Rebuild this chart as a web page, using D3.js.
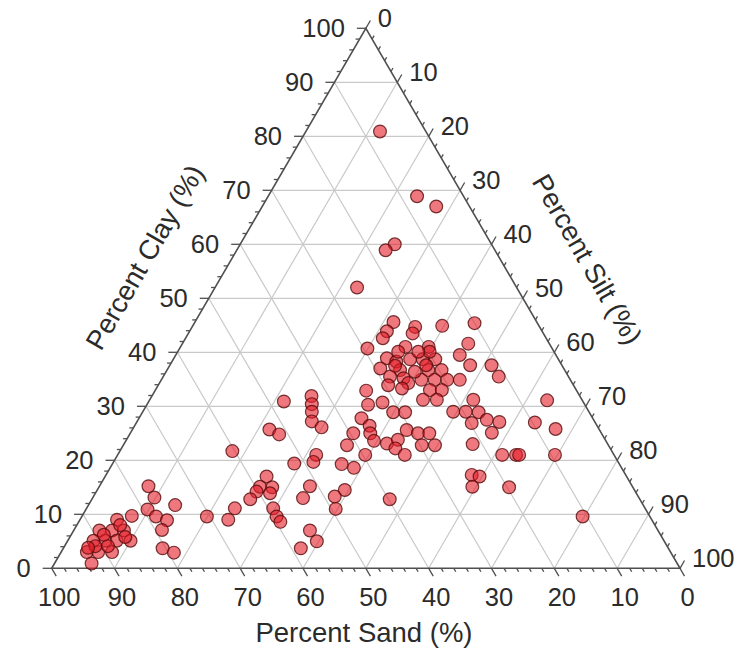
<!DOCTYPE html>
<html><head><meta charset="utf-8">
<script src="https://cdn.jsdelivr.net/npm/d3@7"></script>
<style>body{margin:0;background:#fff}svg{display:block}</style>
</head><body>
<svg id="chart" width="743" height="655"></svg>
<script>
// ---- data ----
const tickValues = [0, 10, 20, 30, 40, 50, 60, 70, 80, 90, 100];
const tickLabels = ["0", "10", "20", "30", "40", "50", "60", "70", "80", "90", "100"];
const axisTitles = { sand: "Percent Sand (%)", clay: "Percent Clay (%)", silt: "Percent Silt (%)" };
// sample composition (percent); silt is the remainder 100 - clay - sand
const clay = [80.9, 68.9, 67.0, 60.0, 58.9, 52.0,
  45.6, 43.9, 42.6, 44.7, 43.5, 44.9, 45.4, 40.7, 41.0, 41.0, 41.6, 38.9, 38.3, 38.7, 38.7, 38.7, 40.1, 39.5, 37.6,
  37.0, 36.7, 36.7, 36.7, 35.2, 35.5, 34.3, 34.9, 34.9, 34.9, 34.9, 33.3, 33.9, 32.9, 33.0, 33.0, 31.2, 31.2, 31.2,
  30.3, 30.7, 28.9, 28.9, 29.0, 29.0, 28.9, 35.5, 37.6, 27.5, 27.1, 26.9, 25.1, 31.1, 27.0, 25.8, 23.0, 21.0, 21.0,
  21.0, 21.0, 17.3, 17.0, 15.1, 15.0, 9.6,
  40.1, 40.1, 37.6, 36.4, 37.5,
  27.8, 26.4, 25.0, 25.0, 23.6, 22.8, 21.0, 23.1, 23.8, 22.2, 21.0, 25.6, 25.0, 25.0, 22.8, 22.8, 19.3, 18.6, 14.5,
  12.8, 11.0, 13.3,
  30.9, 31.9, 30.4, 29.0, 27.2, 26.1, 25.7, 24.8, 21.7, 19.4, 21.0, 19.7, 17.0, 15.1, 15.0, 13.9, 14.2, 12.8, 15.2,
  13.0, 11.1, 9.0, 11.1, 9.6, 8.6, 7.0, 5.0, 3.7, 9.6,
  15.2, 13.1, 11.7, 10.9, 9.6, 8.9, 7.1, 3.7, 2.9, 9.7, 9.0, 7.0, 7.0, 7.0, 5.1, 5.1, 5.1, 5.1, 3.0, 3.0, 3.0, 0.9,
  6.2, 4.1, 8.0, 4.1, 3.8, 5.8];
const sand = [7.3, 7.4, 5.3, 15.4, 17.4, 25.4,
  22.8, 24.7, 26.0, 19.8, 20.8, 15.4, 10.0, 29.4, 23.2, 19.5, 12.9, 27.2, 26.0, 23.6, 21.6, 19.6, 19.8, 15.3, 14.6,
  29.2, 26.2, 21.7, 19.6, 26.4, 28.4, 26.1, 23.7, 21.6, 19.6, 17.6, 27.6, 29.5, 33.5, 23.3, 21.4, 25.3, 23.1, 17.3,
  34.5, 32.0, 31.2, 29.3, 21.6, 19.6, 17.6, 11.1, 11.2, 17.0, 15.2, 19.7, 17.4, 5.6, 9.6, 6.9, 21.5, 17.8, 15.6,
  15.1, 9.4, 24.5, 23.4, 25.5, 19.7, 10.7,
  24.8, 21.6, 21.6, 24.0, 26.6,
  36.8, 36.2, 39.5, 36.8, 36.9, 41.6, 39.6, 35.1, 33.0, 34.2, 33.3, 30.7, 29.2, 27.4, 29.7, 27.6, 44.2, 42.6, 46.1,
  39.8, 49.3, 48.3,
  47.6, 42.7, 43.4, 44.1, 45.0, 44.0, 52.5, 51.4, 60.4, 51.7, 47.4, 48.5, 57.3, 59.3, 57.4, 58.3, 60.3, 62.0, 51.3,
  53.5, 65.3, 67.4, 59.2, 59.4, 59.3, 55.4, 55.3, 58.5, 70.5,
  77.0, 77.1, 74.5, 79.3, 78.6, 77.2, 78.9, 80.5, 79.1, 82.4, 85.1, 88.9, 86.9, 85.0, 90.8, 88.9, 87.1, 84.9, 92.9,
  91.1, 88.9, 93.2,
  88.6, 91.0, 85.1, 89.0, 92.3, 85.4];

// ---- layout ----
const svg = d3.select("#chart");
const xLeft = 51.7, xRight = 680, yBottom = 568.3, yTop = 28.3;
// horizontal position measured as (silt + clay/2), vertical as clay
const xs = d3.scaleLinear().domain([0, 100]).range([xLeft, xRight]);
const ys = d3.scaleLinear().domain([0, 100]).range([yBottom, yTop]);
function proj(sa, cl) { return [xs(100 - sa - cl / 2), ys(cl)]; }

const fontFam = "'Liberation Sans', Arial, Helvetica, sans-serif";
const gridColor = "#c9c9c9", axisColor = "#505050", textColor = "#2b2b2b";

// edge direction vectors
const rEdge = [proj(0, 0), proj(0, 100)];    // right edge bottom->top
const lEdge = [proj(100, 0), proj(0, 100)];  // left edge bottom->top
function unit(a, b) { const dx = b[0] - a[0], dy = b[1] - a[1], l = Math.hypot(dx, dy); return [dx / l, dy / l]; }
const rDir = unit(rEdge[0], rEdge[1]);
const lDir = unit(lEdge[0], lEdge[1]);
const sandTickDir = [-rDir[0], -rDir[1]];  // down-right
const siltTickDir = [lDir[0], lDir[1]];    // up-right
const clayTickDir = [-1, 0];

// grid
const grid = svg.append("g").attr("stroke", gridColor).attr("stroke-width", 1.2).attr("fill", "none");
const gridVals = tickValues.filter(v => v > 0 && v < 100);
gridVals.forEach(v => {
  let a = proj(100 - v, v), b = proj(0, v);
  grid.append("line").attr("x1", a[0]).attr("y1", a[1]).attr("x2", b[0]).attr("y2", b[1]);
  a = proj(v, 0); b = proj(v, 100 - v);
  grid.append("line").attr("x1", a[0]).attr("y1", a[1]).attr("x2", b[0]).attr("y2", b[1]);
  a = proj(100 - v, 0); b = proj(0, 100 - v);
  grid.append("line").attr("x1", a[0]).attr("y1", a[1]).attr("x2", b[0]).attr("y2", b[1]);
});

// triangle edges
const A = proj(100, 0), B = proj(0, 0), C = proj(0, 100);
svg.append("path").attr("d", `M${A[0]},${A[1]}L${B[0]},${B[1]}L${C[0]},${C[1]}Z`)
  .attr("fill", "none").attr("stroke", axisColor).attr("stroke-width", 1.6);

// ticks
const ticks = svg.append("g").attr("stroke", axisColor).attr("stroke-width", 1.3);
const minorVals = d3.range(0, 101, 2);
minorVals.forEach(v => {
  const len = v % 10 === 0 ? 9 : 4;
  let p = proj(100 - v, v);
  ticks.append("line").attr("x1", p[0]).attr("y1", p[1]).attr("x2", p[0] + clayTickDir[0] * len).attr("y2", p[1] + clayTickDir[1] * len);
  p = proj(v, 0);
  ticks.append("line").attr("x1", p[0]).attr("y1", p[1]).attr("x2", p[0] + sandTickDir[0] * len).attr("y2", p[1] + sandTickDir[1] * len);
  p = proj(0, 100 - v);
  ticks.append("line").attr("x1", p[0]).attr("y1", p[1]).attr("x2", p[0] + siltTickDir[0] * len).attr("y2", p[1] + siltTickDir[1] * len);
});

// tick labels
const lab = svg.append("g").attr("font-family", fontFam).attr("font-size", 25.5).attr("fill", textColor);
tickValues.forEach((v, i) => {
  let p = proj(100 - v, v);
  lab.append("text").attr("x", p[0] - 21).attr("y", p[1] + 9).attr("text-anchor", "end").text(tickLabels[i]);
  p = proj(v, 0);
  lab.append("text").attr("x", p[0] + 7.5).attr("y", p[1] + 38).attr("text-anchor", "middle").text(tickLabels[i]);
  p = proj(0, 100 - v);
  lab.append("text").attr("x", p[0] + 12).attr("y", p[1] - 1).attr("text-anchor", "start").text(tickLabels[i]);
});

// axis titles
const tg = svg.append("g").attr("font-family", fontFam).attr("font-size", 27.5).attr("fill", textColor).attr("text-anchor", "middle");
tg.append("text").attr("x", 364).attr("y", 642).text(axisTitles.sand);
tg.append("text").attr("transform", "translate(153,262) rotate(-60)").text(axisTitles.clay);
tg.append("text").attr("transform", "translate(579,264) rotate(60)").text(axisTitles.silt);

// points
const pts = clay.map((c, i) => ({ clay: c, sand: sand[i] }));
svg.append("g").selectAll("circle").data(pts).join("circle")
  .attr("cx", d => proj(d.sand, d.clay)[0])
  .attr("cy", d => proj(d.sand, d.clay)[1])
  .attr("r", 6.4)
  .attr("fill", "rgba(228,28,40,0.6)")
  .attr("stroke", "rgba(85,12,12,0.8)")
  .attr("stroke-width", 1.2);
</script>
</body></html>
